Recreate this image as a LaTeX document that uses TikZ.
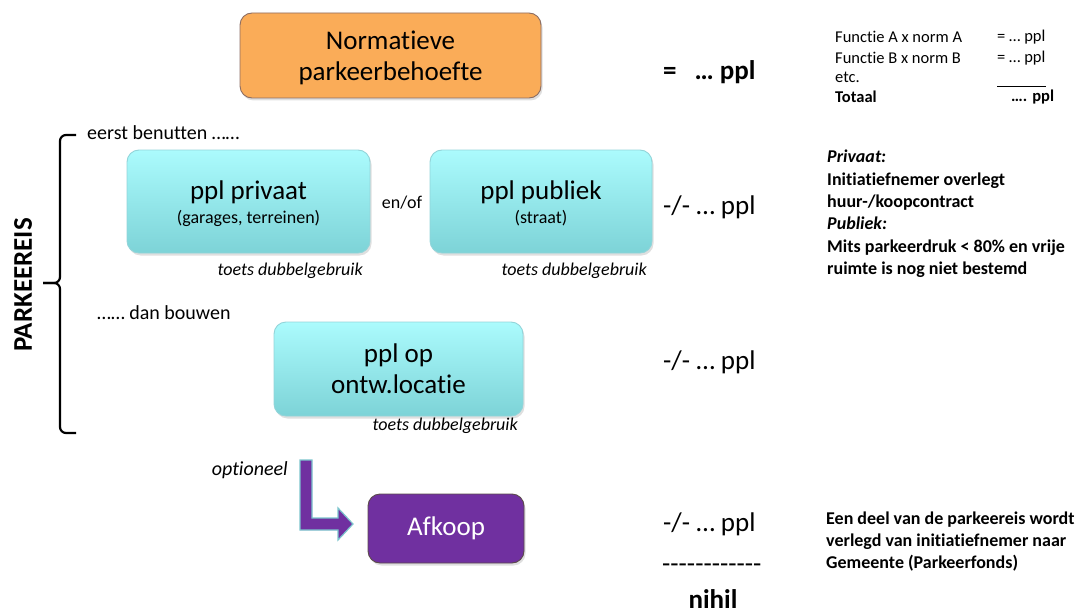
\documentclass[tikz,border=0pt]{standalone}
\usepackage{fontspec}
\setmainfont{Carlito}[Ligatures={NoCommon,NoRequired,NoContextual,TeXOff}, Contextuals=NoAlternate, RawFeature={-liga;-clig;-calt;-ccmp}]
\usetikzlibrary{shadows}

\definecolor{normorange}{HTML}{FAAC58}
\definecolor{normedge}{HTML}{8C6D62}
\definecolor{pptop}{HTML}{ABFBFD}
\definecolor{ppbot}{HTML}{7DD3D7}
\definecolor{ppedge}{HTML}{92D4D9}
\definecolor{kooppurple}{HTML}{7030A0}
\definecolor{koopedge}{HTML}{5B4B4B}
\definecolor{arrowedge}{HTML}{7CC4CD}

\newcommand{\sizeL}{\fontsize{27}{31}\selectfont}
\newcommand{\sizeM}{\fontsize{20}{24}\selectfont}
\newcommand{\sizeN}{\fontsize{18}{22.4}\selectfont}
\newcommand{\sizeS}{\fontsize{16.5}{20}\selectfont}

\tikzset{
  blok/.style={rounded corners=12pt, align=center, inner sep=0pt,
    drop shadow={shadow xshift=1.5pt, shadow yshift=-2.5pt, opacity=0.25}},
  normbox/.style={blok, fill=normorange, draw=normedge, line width=0.9pt, font=\sizeL},
  pplbox/.style={blok, top color=pptop, bottom color=ppbot, draw=ppedge, line width=0.9pt, font=\sizeL},
  koopbox/.style={blok, fill=kooppurple, draw=koopedge, line width=0.9pt, font=\sizeL, text=white},
  toets/.style={anchor=east, inner sep=0pt, font=\sizeN\itshape},
  uitkomst/.style={anchor=west, inner sep=0pt, font=\sizeL},
  uitleg/.style={anchor=west, inner sep=0pt, align=left, font=\sizeN\bfseries},
  tabel/.style={anchor=west, inner sep=0pt, font=\sizeS},
}

\begin{document}
\begin{tikzpicture}[x=1pt, y=-1pt]
  \useasboundingbox (0,0) rectangle (1081,615);

  % norm
  \node[normbox, minimum width=301pt, minimum height=85pt] (norm) at (390.5,55.5)
    {\raisebox{-3pt}[\height][\depth]{\begin{tabular}{@{}c@{}}Normatieve\\parkeerbehoefte\end{tabular}}};
  \node[uitkomst, font=\sizeL\bfseries] (normppl) at (663,72) {=\hspace{18pt}… ppl};

  % berekening rechtsboven
  \node[tabel] (fa) at (835,37) {Functie A x norm A};
  \node[tabel] (fav) at (997,37) {= … ppl};
  \node[tabel] (fb) at (835,58) {Functie B x norm B};
  \node[tabel] (fbv) at (997,58) {= … ppl};
  \node[tabel] (etc) at (835,77) {etc.};
  \coordinate (lijnA) at (997,86);
  \coordinate (lijnB) at (1046,86);
  \draw[line width=0.8pt] (lijnA) -- (lijnB);
  \node[tabel, font=\sizeS\bfseries] (tot) at (835,97) {Totaal};
  \node[tabel, font=\sizeS\bfseries] (totv) at (1011,97) {…. ppl};

  % accolade
  \coordinate (bA) at (76,135);
  \coordinate (bM) at (43,283);
  \coordinate (bB) at (76,433);
  \draw[line width=2.2pt, rounded corners=6pt] (bA) -- (60,135) -- (60,283) -- (bM);
  \draw[line width=2.2pt, rounded corners=6pt] (bM) -- (60,283) -- (60,433) -- (bB);
  \node[rotate=90, font=\sizeL\bfseries, inner sep=0pt] (eis) at (23,285) {PARKEEREIS};

  % eerst benutten
  \node[anchor=west, inner sep=0pt, font=\sizeM] (eerst) at (87,133) {eerst benutten ……};
  \node[pplbox, minimum width=243pt, minimum height=103pt] (privaat) at (248.5,201.5)
    {\raisebox{-2pt}[\height][\depth]{\shortstack{ppl privaat\\[3pt]{\fontsize{18}{20}\selectfont(garages, terreinen)}}}};
  \node[pplbox, minimum width=222pt, minimum height=103pt] (publiek) at (541,201.5)
    {\raisebox{-2pt}[\height][\depth]{\shortstack{ppl publiek\\[3pt]{\fontsize{18}{20}\selectfont(straat)}}}};
  \node[inner sep=0pt, font=\sizeN] (enof) at (402,203) {en/of};
  \node[toets] (toetsA) at (363,271) {toets dubbelgebruik};
  \node[toets] (toetsB) at (647,271) {toets dubbelgebruik};
  \node[uitkomst] (pplA) at (663,207) {-/- … ppl};

  \node[uitleg] (privuitleg) at (827,214)
    {\textit{Privaat:}\\Initiatiefnemer overlegt\\huur-/koopcontract\\
     \textit{Publiek:}\\Mits parkeerdruk < 80\% en vrije\\ruimte is nog niet bestemd};

  % dan bouwen
  \node[anchor=west, inner sep=0pt, font=\sizeM] (bouwen) at (97,313) {…… dan bouwen};
  \node[pplbox, minimum width=249pt, minimum height=94pt] (locatie) at (398.5,369)
    {ppl op\\ontw.locatie};
  \node[toets] (toetsC) at (518,426) {toets dubbelgebruik};
  \node[uitkomst] (pplB) at (663,362) {-/- … ppl};

  % afkoop
  \node[anchor=east, inner sep=0pt, font=\sizeM\itshape] (optie) at (288,470) {optioneel};
  \draw[fill=kooppurple, draw=arrowedge, line width=1.2pt, line join=miter]
    (300,460) -- (312,460) -- (312,518) -- (338,518) -- (338,508) -- (353,524)
    -- (338,540) -- (338,530) -- (300,530) -- cycle;
  \node[koopbox, minimum width=156pt, minimum height=69pt] (afkoop) at (446,528.5) {Afkoop};
  \node[uitkomst] (pplC) at (663,524) {-/- … ppl};
  \node[uitkomst] (streep) at (662,568) {------------};
  \node[font=\sizeL\bfseries, inner sep=0pt] (nihil) at (713,599) {nihil};

  \node[uitleg] (koopuitleg) at (826,541.5)
    {Een deel van de parkeereis wordt\\verlegd van initiatiefnemer naar\\Gemeente (Parkeerfonds)};
\end{tikzpicture}
\end{document}
